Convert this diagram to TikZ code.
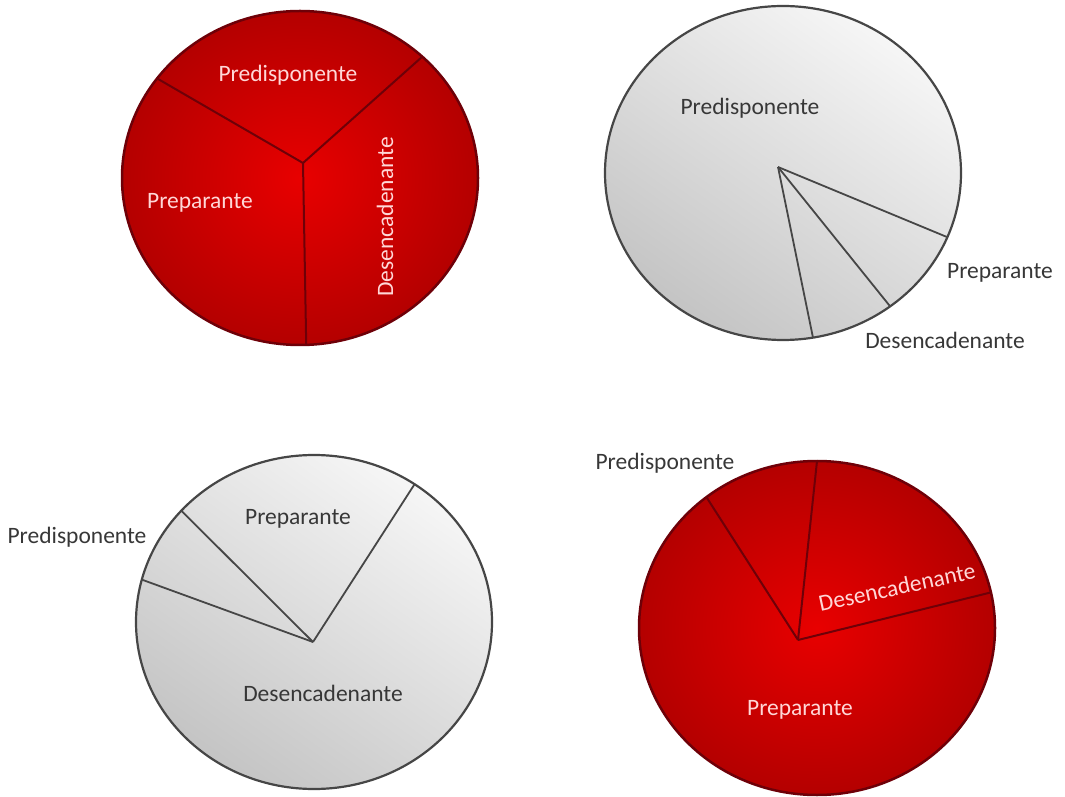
\documentclass[tikz,border=0pt]{standalone}
\usepackage{xcolor}
\usepackage{fontspec}
\setmainfont{Carlito}
\usepackage{tikz}
\usetikzlibrary{calc}

\begin{document}
\begin{tikzpicture}[x=1pt,y=1pt,
  redpie/.style={shading=radial,inner color=redin,outer color=redout,draw=redrim,line width=2.5pt},
  greypie/.style={top color=greytop,bottom color=greybot,shading angle=-35,draw=greyrim,line width=2.2pt},
  redcut/.style={draw=redrim,line width=2pt},
  greycut/.style={draw=greyrim,line width=1.8pt},
  redlbl/.style={text=redtext,font=\fontsize{23.5}{28}\selectfont},
  greylbl/.style={text=greytext,font=\fontsize{23.5}{28}\selectfont}]
% Define colours
\definecolor{redin}{RGB}{232,0,0}       % bright centre
\definecolor{redout}{RGB}{180,0,0}      % darker rim area
\definecolor{redrim}{RGB}{110,0,8}      % outline
\definecolor{redtext}{RGB}{255,215,215}
\definecolor{greytop}{RGB}{246,246,246}
\definecolor{greybot}{RGB}{196,196,196}
\definecolor{greyrim}{RGB}{70,70,70}
\definecolor{greytext}{RGB}{55,55,55}

% Radii of every pie
\newlength{\pierx}
\setlength{\pierx}{178pt}
\newlength{\piery}
\setlength{\piery}{167pt}

\useasboundingbox (0,0) rectangle (1065,796);

% Top left pie
\coordinate (c1) at (300,618);
\coordinate (apex1) at (303,633);
\path[redpie] (c1) ellipse [x radius=\pierx,y radius=\piery];
\draw[redcut] ($(c1)+(143.4:\pierx{} and \piery)$) -- (apex1) -- ($(c1)+(46.6:\pierx{} and \piery)$);
\draw[redcut] (apex1) -- ($(c1)+(272:\pierx{} and \piery)$);
\node[redlbl] (pre1) at (288,721) {Predisponente};
\node[redlbl] (prep1) at (200,593) {Preparante};
\node[redlbl,rotate=90] (des1) at (385,579) {Desencadenante};

% Top right pie
\coordinate (c2) at (783,623);
\coordinate (apex2) at (778,629);
\path[greypie] (c2) ellipse [x radius=\pierx,y radius=\piery];
\draw[greycut] (apex2) -- ($(c2)+(337.4:\pierx{} and \piery)$);
\draw[greycut] (apex2) -- ($(c2)+(307:\pierx{} and \piery)$);
\draw[greycut] (apex2) -- ($(c2)+(279.7:\pierx{} and \piery)$);
\node[greylbl] (pre2) at (750,688) {Predisponente};
\node[greylbl] (prep2) at (1000,523) {Preparante};
\node[greylbl] (des2) at (945,456) {Desencadenante};

% Bottom left pie
\coordinate (c3) at (314,174);
\coordinate (apex3) at (313,154);
\path[greypie] (c3) ellipse [x radius=\pierx,y radius=\piery];
\draw[greycut] (apex3) -- ($(c3)+(55.6:\pierx{} and \piery)$);
\draw[greycut] (apex3) -- ($(c3)+(138.2:\pierx{} and \piery)$);
\draw[greycut] (apex3) -- ($(c3)+(165.3:\pierx{} and \piery)$);
\node[greylbl] (prep3) at (298,277) {Preparante};
\node[greylbl] (des3) at (323,103) {Desencadenante};
\node[greylbl] (pre3) at (77,259) {Predisponente};

% Bottom right pie
\coordinate (c4) at (817,168);
\coordinate (apex4) at (798,156);
\path[redpie] (c4) ellipse [x radius=\pierx,y radius=\piery];
\draw[redcut] (apex4) -- ($(c4)+(128.4:\pierx{} and \piery)$);
\draw[redcut] (apex4) -- ($(c4)+(90:\pierx{} and \piery)$);
\draw[redcut] (apex4) -- ($(c4)+(12.3:\pierx{} and \piery)$);
\node[greylbl] (pre4) at (665,333) {Predisponente};
\node[redlbl,rotate=12] (des4) at (897,209) {Desencadenante};
\node[redlbl] (prep4) at (800,86) {Preparante};
\end{tikzpicture}
\end{document}
